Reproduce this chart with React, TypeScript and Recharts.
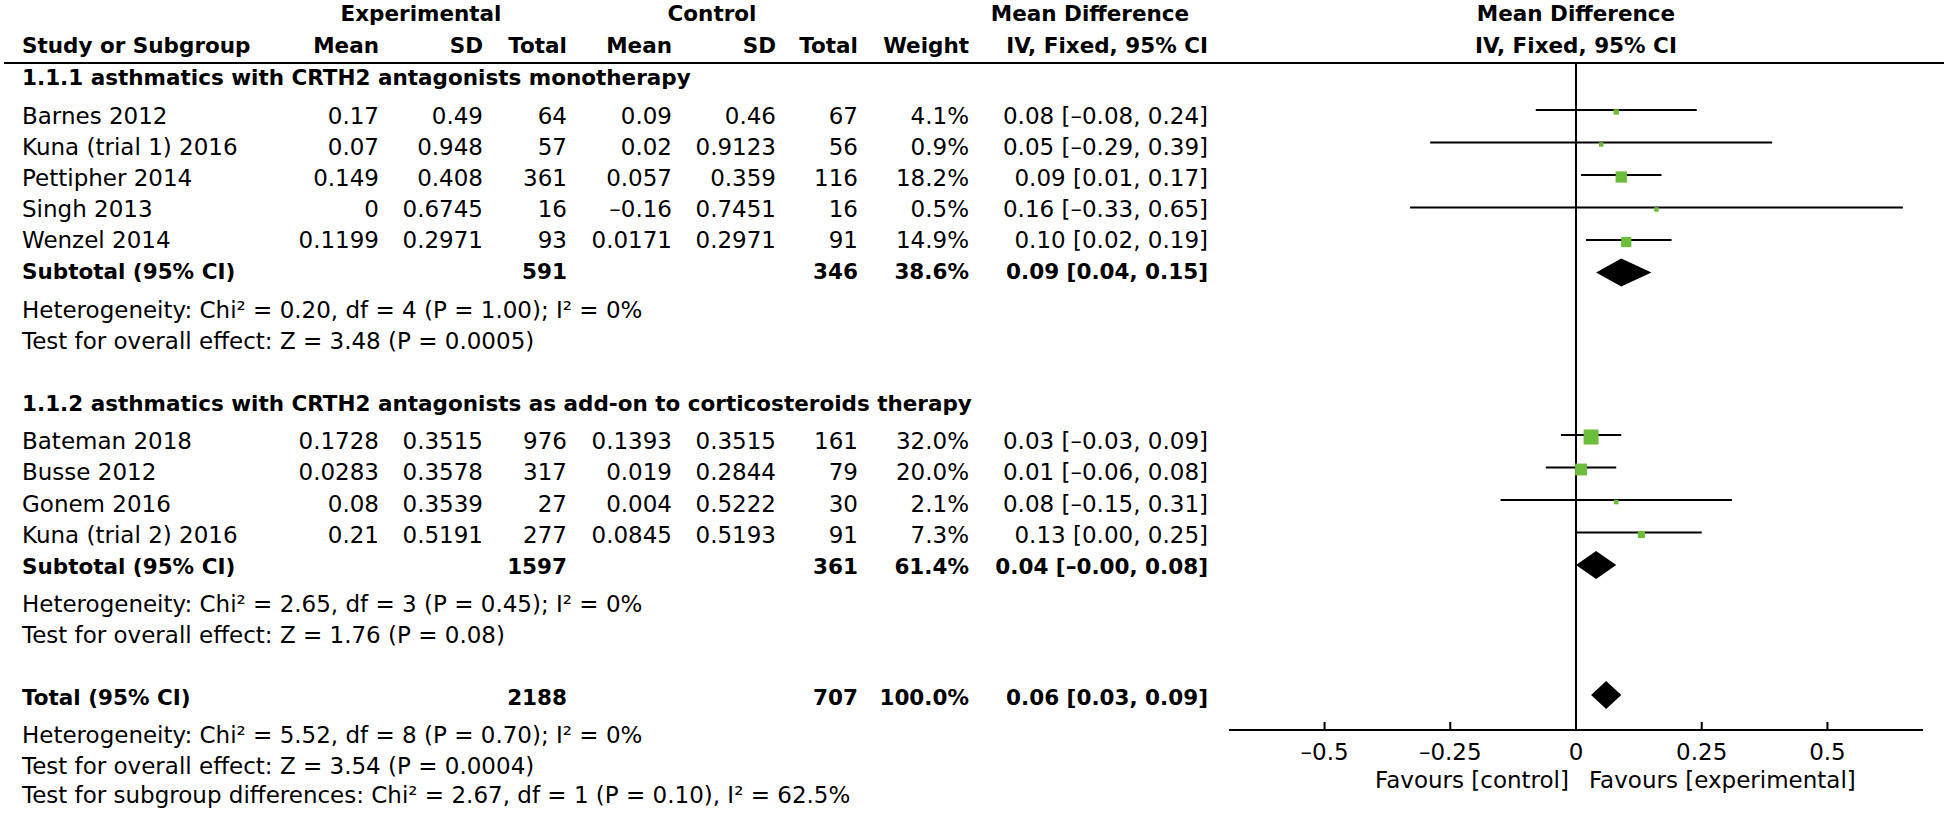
import React from 'react';
import { ScatterChart, Scatter, XAxis, YAxis, ErrorBar, ReferenceLine, ReferenceArea } from 'recharts';

const FONT = '"DejaVu Sans", Verdana, sans-serif';
const GREEN = '#6cbd3a';

// 1.1.1 monotherapy
const g1Studies = ['Barnes 2012', 'Kuna (trial 1) 2016', 'Pettipher 2014', 'Singh 2013', 'Wenzel 2014'];
const g1ExpMean = [0.17, 0.07, 0.149, 0, 0.1199];
const g1ExpSD = [0.49, 0.948, 0.408, 0.6745, 0.2971];
const g1ExpN = [64, 57, 361, 16, 93];
const g1CtlMean = [0.09, 0.02, 0.057, -0.16, 0.0171];
const g1CtlSD = [0.46, 0.9123, 0.359, 0.7451, 0.2971];
const g1CtlN = [67, 56, 116, 16, 91];
const g1Weight = [4.1, 0.9, 18.2, 0.5, 14.9];
const g1MD = [0.08, 0.05, 0.09, 0.16, 0.1];
const g1Lo = [-0.08, -0.29, 0.01, -0.33, 0.02];
const g1Hi = [0.24, 0.39, 0.17, 0.65, 0.19];

// 1.1.2 add-on to corticosteroids
const g2Studies = ['Bateman 2018', 'Busse 2012', 'Gonem 2016', 'Kuna (trial 2) 2016'];
const g2ExpMean = [0.1728, 0.0283, 0.08, 0.21];
const g2ExpSD = [0.3515, 0.3578, 0.3539, 0.5191];
const g2ExpN = [976, 317, 27, 277];
const g2CtlMean = [0.1393, 0.019, 0.004, 0.0845];
const g2CtlSD = [0.3515, 0.2844, 0.5222, 0.5193];
const g2CtlN = [161, 79, 30, 91];
const g2Weight = [32.0, 20.0, 2.1, 7.3];
const g2MD = [0.03, 0.01, 0.08, 0.13];
const g2Lo = [-0.03, -0.06, -0.15, 0.0];
const g2Hi = [0.09, 0.08, 0.31, 0.25];

// pooled: subtotal 1, subtotal 2, total
const pooledLabel = ['Subtotal (95% CI)', 'Subtotal (95% CI)', 'Total (95% CI)'];
const pooledExpN = [591, 1597, 2188];
const pooledCtlN = [346, 361, 707];
const pooledWeight = [38.6, 61.4, 100.0];
const pooledMD = [0.09, 0.04, 0.06];
const pooledLo = [0.04, -0, 0.03];
const pooledHi = [0.15, 0.08, 0.09];

const groupTitles = [
  '1.1.1 asthmatics with CRTH2 antagonists monotherapy',
  '1.1.2 asthmatics with CRTH2 antagonists as add-on to corticosteroids therapy',
];
const heterogeneity = [
  'Heterogeneity: Chi² = 0.20, df = 4 (P = 1.00); I² = 0%',
  'Heterogeneity: Chi² = 2.65, df = 3 (P = 0.45); I² = 0%',
  'Heterogeneity: Chi² = 5.52, df = 8 (P = 0.70); I² = 0%',
];
const overallEffect = [
  'Test for overall effect: Z = 3.48 (P = 0.0005)',
  'Test for overall effect: Z = 1.76 (P = 0.08)',
  'Test for overall effect: Z = 3.54 (P = 0.0004)',
];
const subgroupTest = 'Test for subgroup differences: Chi² = 2.67, df = 1 (P = 0.10), I² = 62.5%';
const xTicks = [-0.5, -0.25, 0, 0.25, 0.5];

// row layout (plot rows)
const ROW0 = 77.5;
const ROW_H = 32.5;
const PLOT_TOP = 62;
const PLOT_BOTTOM = 730;
const Y_DOMAIN = [(PLOT_TOP - ROW0) / ROW_H, (PLOT_BOTTOM - ROW0) / ROW_H];

// text line centres (px) for each table row, a little off the plot grid like the original
const TEXT_Y: Record<number, number> = {
  0: 77, 1: 115.5, 2: 146.5, 3: 177.5, 4: 208.5, 5: 239.5, 6: 270.5, 7: 310, 8: 341,
  10: 403, 11: 441, 12: 472, 13: 504, 14: 535, 15: 565.5, 16: 604, 17: 635,
  19: 697, 20: 735, 21: 766, 22: 795,
};
const ty = (r: number) => TEXT_Y[r] + 8.4;

const COL = { name: 22, expMean: 379, expSD: 483, expN: 567, ctlMean: 672, ctlSD: 776, ctlN: 858, weight: 969, ci: 1208 };

const fmtNum = (v: number) => String(v).replace('-', '–');
const fmt2 = (v: number) => (v < 0 || Object.is(v, -0) ? '–' : '') + Math.abs(v).toFixed(2);
const ciText = (m: number, lo: number, hi: number) => `${fmt2(m)} [${fmt2(lo)}, ${fmt2(hi)}]`;

const groups = [
  { start: 1, names: g1Studies, em: g1ExpMean, es: g1ExpSD, en: g1ExpN, cm: g1CtlMean, cs: g1CtlSD, cn: g1CtlN, w: g1Weight, md: g1MD, lo: g1Lo, hi: g1Hi },
  { start: 11, names: g2Studies, em: g2ExpMean, es: g2ExpSD, en: g2ExpN, cm: g2CtlMean, cs: g2CtlSD, cn: g2CtlN, w: g2Weight, md: g2MD, lo: g2Lo, hi: g2Hi },
];
const pooledRows = [6, 15, 19];

const studyPoints = groups.flatMap(g =>
  g.names.map((n, i) => ({
    name: n,
    x: g.md[i],
    y: g.start + i,
    err: [g.md[i] - g.lo[i], g.hi[i] - g.md[i]],
    w: g.w[i],
  }))
);

const T = ({ x, y, anchor = 'start', bold = false, children }: any) => (
  <text x={x} y={y} textAnchor={anchor} fontFamily={FONT} fontSize={bold ? 21.5 : 23} fontWeight={bold ? 'bold' : 'normal'} fill="#000">
    {children}
  </text>
);

const StudySquare = (props: any) => {
  const { cx, cy, payload } = props;
  const s = Math.max(4.5, 2.65 * Math.sqrt(payload.w));
  return <rect x={cx - s / 2} y={cy + 2 - s / 2} width={s} height={s} fill={GREEN} />;
};

const diamond = (md: number, lo: number, hi: number) => (p: any) => {
  const { x, y, width, height } = p;
  const xm = x + (width * (md - lo)) / (hi - lo);
  const pts = `${x},${y + height / 2} ${xm},${y} ${x + width},${y + height / 2} ${xm},${y + height}`;
  return <polygon points={pts} fill="#000" />;
};

const AxisTick = (props: any) => {
  const { x, y, payload } = props;
  return (
    <g>
      <line x1={x} x2={x} y1={y - 8} y2={y} stroke="#000" strokeWidth={2} />
      <text x={x} y={y + 30} textAnchor="middle" fontFamily={FONT} fontSize={23} fill="#000">
        {fmtNum(payload.value)}
      </text>
    </g>
  );
};

const Table = () => (
  <svg width={1946} height={814} style={{ position: 'absolute', left: 0, top: 0, pointerEvents: 'none' }}>
    {/* headers */}
    <T x={421} y={21} anchor="middle" bold>Experimental</T>
    <T x={712} y={21} anchor="middle" bold>Control</T>
    <T x={1090} y={21} anchor="middle" bold>Mean Difference</T>
    <T x={1576} y={21} anchor="middle" bold>Mean Difference</T>
    <T x={COL.name} y={53} bold>Study or Subgroup</T>
    <T x={COL.expMean} y={53} anchor="end" bold>Mean</T>
    <T x={COL.expSD} y={53} anchor="end" bold>SD</T>
    <T x={COL.expN} y={53} anchor="end" bold>Total</T>
    <T x={COL.ctlMean} y={53} anchor="end" bold>Mean</T>
    <T x={COL.ctlSD} y={53} anchor="end" bold>SD</T>
    <T x={COL.ctlN} y={53} anchor="end" bold>Total</T>
    <T x={COL.weight} y={53} anchor="end" bold>Weight</T>
    <T x={COL.ci} y={53} anchor="end" bold>IV, Fixed, 95% CI</T>
    <T x={1576} y={53} anchor="middle" bold>IV, Fixed, 95% CI</T>
    <line x1={4} x2={1944} y1={63} y2={63} stroke="#000" strokeWidth={2} />

    {groups.map((g, gi) => (
      <g key={gi}>
        <T x={COL.name} y={ty(g.start - 1)} bold>{groupTitles[gi]}</T>
        {g.names.map((n, i) => {
          const yy = ty(g.start + i);
          return (
            <g key={n}>
              <T x={COL.name} y={yy}>{n}</T>
              <T x={COL.expMean} y={yy} anchor="end">{fmtNum(g.em[i])}</T>
              <T x={COL.expSD} y={yy} anchor="end">{fmtNum(g.es[i])}</T>
              <T x={COL.expN} y={yy} anchor="end">{g.en[i]}</T>
              <T x={COL.ctlMean} y={yy} anchor="end">{fmtNum(g.cm[i])}</T>
              <T x={COL.ctlSD} y={yy} anchor="end">{fmtNum(g.cs[i])}</T>
              <T x={COL.ctlN} y={yy} anchor="end">{g.cn[i]}</T>
              <T x={COL.weight} y={yy} anchor="end">{g.w[i].toFixed(1)}%</T>
              <T x={COL.ci} y={yy} anchor="end">{ciText(g.md[i], g.lo[i], g.hi[i])}</T>
            </g>
          );
        })}
      </g>
    ))}

    {pooledRows.map((r, i) => (
      <g key={`p${i}`}>
        <T x={COL.name} y={ty(r)} bold>{pooledLabel[i]}</T>
        <T x={COL.expN} y={ty(r)} anchor="end" bold>{pooledExpN[i]}</T>
        <T x={COL.ctlN} y={ty(r)} anchor="end" bold>{pooledCtlN[i]}</T>
        <T x={COL.weight} y={ty(r)} anchor="end" bold>{pooledWeight[i].toFixed(1)}%</T>
        <T x={COL.ci} y={ty(r)} anchor="end" bold>{ciText(pooledMD[i], pooledLo[i], pooledHi[i])}</T>
        <T x={COL.name} y={ty(r + 1)}>{heterogeneity[i]}</T>
        <T x={COL.name} y={ty(r + 2)}>{overallEffect[i]}</T>
      </g>
    ))}
    <T x={COL.name} y={ty(22)}>{subgroupTest}</T>

    <T x={1569} y={788} anchor="end">Favours [control]</T>
    <T x={1589} y={788}>Favours [experimental]</T>
  </svg>
);

export default function App() {
  return (
    <div style={{ position: 'absolute', left: 0, top: 0, width: 1946, height: 814, background: '#fff' }}>
      <ScatterChart width={1946} height={814} margin={{ top: PLOT_TOP, right: 23, bottom: 814 - PLOT_BOTTOM - 60, left: 1229 }}>
        <XAxis
          type="number"
          dataKey="x"
          domain={[-0.69, 0.69]}
          ticks={xTicks}
          interval={0}
          allowDataOverflow
          height={60}
          tickSize={0}
          tickMargin={0}
          tickLine={false}
          axisLine={{ stroke: '#000', strokeWidth: 2 }}
          tick={<AxisTick />}
        />
        <YAxis type="number" dataKey="y" domain={Y_DOMAIN} reversed hide allowDataOverflow />
        <ReferenceLine x={0} stroke="#000" strokeWidth={2} />
        <Scatter data={studyPoints} shape={<StudySquare />} isAnimationActive={false}>
          <ErrorBar dataKey="err" direction="x" width={0} stroke="#000" strokeWidth={2} isAnimationActive={false} />
        </Scatter>
        {pooledRows.map((r, i) => (
          <ReferenceArea
            key={i}
            x1={pooledLo[i]}
            x2={pooledHi[i]}
            y1={r - 0.43}
            y2={r + 0.43}
            ifOverflow="visible"
            shape={diamond(pooledMD[i], pooledLo[i], pooledHi[i])}
          />
        ))}
      </ScatterChart>
      <Table />
    </div>
  );
}
